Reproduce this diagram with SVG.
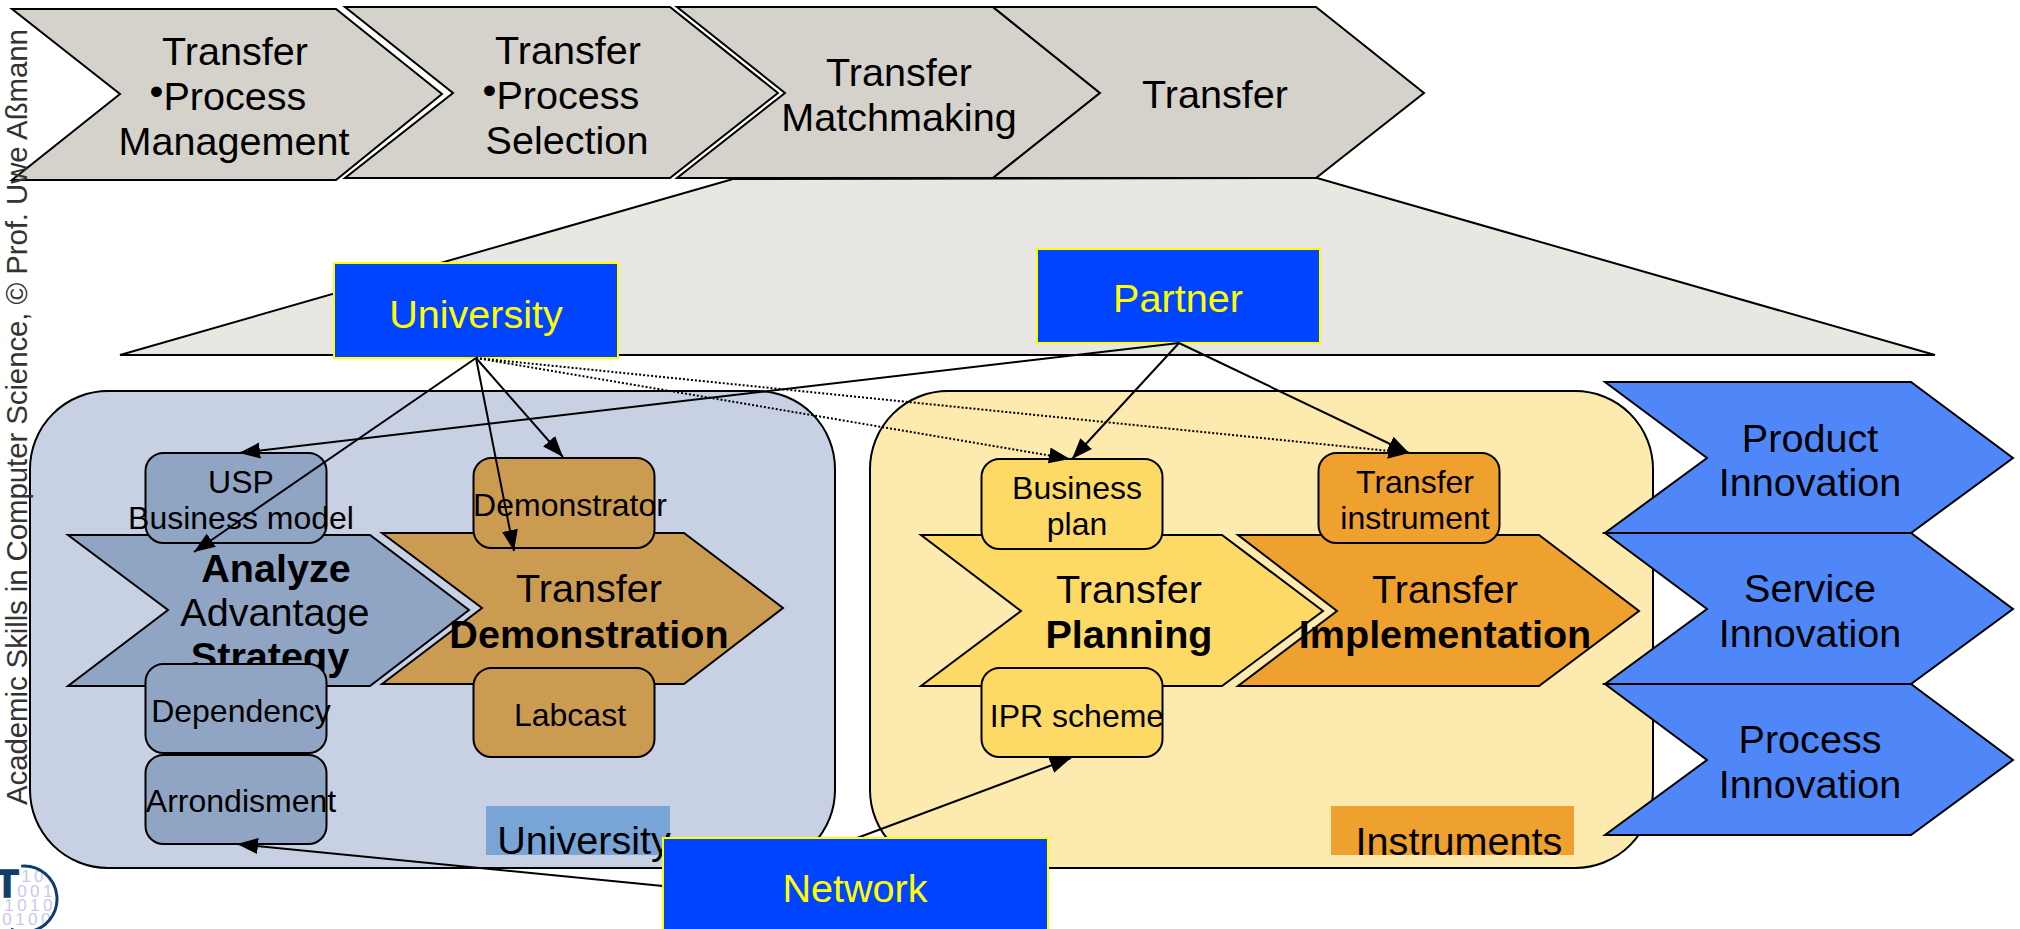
<svg xmlns="http://www.w3.org/2000/svg" width="2020" height="929" viewBox="0 0 2020 929">
<style>
text{font-family:"Liberation Sans",Arial,sans-serif;font-size:39.600px;fill:#000;text-anchor:middle}
.b{font-weight:bold}
.s{font-size:32px}
.y{fill:#ffff00}
.l{stroke:#000;stroke-width:2;stroke-linejoin:miter}
.t{stroke:#000;stroke-width:2}
.c0{fill:#d4d2ca}.c1{fill:#90a4c4}.c2{fill:#cb9b52}.c3{fill:#fdd966}.c4{fill:#eea12e}.c5{fill:#4f87f8}
.n{fill:#0044ff;stroke:#ffff00;stroke-width:2}
.conn{fill:none;stroke:#000;stroke-width:2}
.dot{stroke-dasharray:2 2}
.bin{font-size:17px;fill:#c9c9ee;letter-spacing:3.500px;text-anchor:end}
</style>
<defs>
<marker id="a" markerUnits="userSpaceOnUse" markerWidth="24" markerHeight="18" refX="21" refY="8" orient="auto"><path d="M0 0L21 8L0 16Z" fill="#000"/></marker>
<clipPath id="lc"><circle cx="24" cy="899" r="33"/></clipPath>
</defs>
<g id="trapezoid"><polygon points="120,355 733,179 1317,178 1935,355" fill="#e8e7e2" stroke="#000" stroke-width="2"/></g>
<g id="area-university"><rect x="30" y="391" width="805" height="477" rx="78" fill="#c7d1e3" stroke="#000" stroke-width="2"/><rect x="486" y="806" width="184" height="49" fill="#79a5d6"/><text x="584" y="854">University</text></g>
<g id="area-instruments"><rect x="870" y="391" width="783" height="477" rx="78" fill="#fdeaae" stroke="#000" stroke-width="2"/><rect x="1331" y="806" width="243" height="49" fill="#eea12e"/><text x="1459" y="855">Instruments</text></g>

<g id="step-management"><polygon class="l c0" points="12,9 336,9 442,94 336,180 12,180 120,94"/><text x="235" y="65">Transfer</text><text x="228" y="110"><tspan dy="-5">•</tspan><tspan dy="5">Process</tspan></text><text x="234" y="155">Management</text></g>
<g id="step-selection"><polygon class="l c0" points="345,7 670,7 778,93 670,178 345,178 453,93"/><text x="568" y="64">Transfer</text><text x="561" y="109"><tspan dy="-5">•</tspan><tspan dy="5">Process</tspan></text><text x="567" y="154">Selection</text></g>
<g id="step-matchmaking"><polygon class="l c0" points="677,7 993,7 1100,93 993,178 677,178 785,93"/><text x="899" y="86">Transfer</text><text x="899" y="131">Matchmaking</text></g>
<g id="step-transfer"><polygon class="l c0" points="993,7 1316,7 1424,93 1316,178 993,178 1100,93"/><text x="1215" y="108">Transfer</text></g>

<g id="node-university"><rect class="n" x="334" y="263" width="284" height="95"/><text class="y" x="476" y="328">University</text></g>
<g id="node-partner"><rect class="n" x="1037" y="249" width="283" height="94"/><text class="y" x="1178" y="312">Partner</text></g>

<g id="chevron-analyze"><polygon class="l c1" points="68,535 370,535 469,610 370,686 68,686 168,610"/><text class="b" x="276" y="582">Analyze</text><text x="275" y="626">Advantage</text><text class="b" x="270" y="670">Strategy</text></g>
<g id="chevron-demonstration"><polygon class="l c2" points="382,533 684,533 783,608 684,684 382,684 482,608"/><text x="589" y="602">Transfer</text><text class="b" x="589" y="648">Demonstration</text></g>
<g id="chevron-planning"><polygon class="l c3" points="921,535 1222,535 1323,611 1222,686 921,686 1021,611"/><text x="1129" y="603">Transfer</text><text class="b" x="1129" y="648">Planning</text></g>
<g id="chevron-implementation"><polygon class="l c4" points="1238,535 1539,535 1639,611 1539,686 1238,686 1337,611"/><text x="1445" y="603">Transfer</text><text class="b" x="1445" y="648">Implementation</text></g>

<g id="box-usp"><rect class="t c1" x="145.500" y="453" width="181" height="90" rx="18"/><text class="s" x="241" y="493">USP</text><text class="s" x="241" y="529">Business model</text></g>
<g id="box-demonstrator"><rect class="t c2" x="473.500" y="458" width="181" height="90" rx="18"/><text class="s" x="570" y="516">Demonstrator</text></g>
<g id="box-dependency"><rect class="t c1" x="145.500" y="664" width="181" height="89" rx="18"/><text class="s" x="241" y="722">Dependency</text></g>
<g id="box-arrondisment"><rect class="t c1" x="145.500" y="755" width="181" height="89" rx="18"/><text class="s" x="241" y="812">Arrondisment</text></g>
<g id="box-labcast"><rect class="t c2" x="473.500" y="668" width="181" height="89" rx="18"/><text class="s" x="570" y="726">Labcast</text></g>
<g id="box-business-plan"><rect class="t c3" x="981.500" y="459" width="181" height="90" rx="18"/><text class="s" x="1077" y="499">Business</text><text class="s" x="1077" y="535">plan</text></g>
<g id="box-ipr"><rect class="t c3" x="981.500" y="668" width="181" height="89" rx="18"/><text class="s" x="1077" y="727">IPR scheme</text></g>
<g id="box-transfer-instrument"><rect class="t c4" x="1318.500" y="453" width="181" height="90" rx="18"/><text class="s" x="1415" y="493">Transfer</text><text class="s" x="1415" y="529">instrument</text></g>

<g id="innovation-product"><polygon class="l c5" points="1605,382 1911,382 2013,458 1911,533 1605,533 1707,458"/><text x="1810" y="452">Product</text><text x="1810" y="496">Innovation</text></g>
<g id="innovation-service"><polygon class="l c5" points="1605,533 1911,533 2013,609 1911,684 1605,684 1707,609"/><text x="1810" y="602">Service</text><text x="1810" y="647">Innovation</text></g>
<g id="innovation-process"><polygon class="l c5" points="1605,684 1911,684 2013,760 1911,835 1605,835 1707,760"/><text x="1810" y="753">Process</text><text x="1810" y="798">Innovation</text></g>

<g id="connectors">
<line class="conn" x1="476" y1="358" x2="194" y2="552" marker-end="url(#a)"/>
<line class="conn" x1="476" y1="358" x2="514" y2="551" marker-end="url(#a)"/>
<line class="conn" x1="476" y1="358" x2="563" y2="457" marker-end="url(#a)"/>
<line class="conn dot" x1="476" y1="358" x2="1070" y2="459" marker-end="url(#a)"/>
<line class="conn dot" x1="476" y1="358" x2="1409" y2="453" marker-end="url(#a)"/>
<line class="conn" x1="1179" y1="343" x2="239" y2="453" marker-end="url(#a)"/>
<line class="conn" x1="1179" y1="343" x2="1072" y2="459" marker-end="url(#a)"/>
<line class="conn" x1="1179" y1="343" x2="1409" y2="453" marker-end="url(#a)"/>
<line class="conn" x1="857" y1="838" x2="1071" y2="758" marker-end="url(#a)"/>
<line class="conn" x1="663" y1="886" x2="237" y2="844" marker-end="url(#a)"/>
</g>

<g id="node-network"><rect class="n" x="663" y="838" width="385" height="110"/><text class="y" x="855" y="902">Network</text></g>

<text transform="translate(27 805) rotate(-90)" textLength="776" style="text-anchor:start;font-size:29.500px;fill:#333">Academic Skills in Computer Science, © Prof. Uwe Aßmann</text>

<g id="logo">
<g clip-path="url(#lc)"><text class="bin" x="60" y="882">100</text><text class="bin" x="56" y="897">001</text><text class="bin" x="56" y="911">01010</text><text class="bin" x="54" y="925">10100</text></g>
<circle cx="24" cy="899" r="33" fill="none" stroke="#123c6b" stroke-width="3" stroke-dasharray="120 90" transform="rotate(-95 24 899)"/>
<text x="7" y="897" class="b" style="fill:#123c6b;stroke:#123c6b;stroke-width:1.500px;font-size:38px">T</text>
</g>
</svg>
